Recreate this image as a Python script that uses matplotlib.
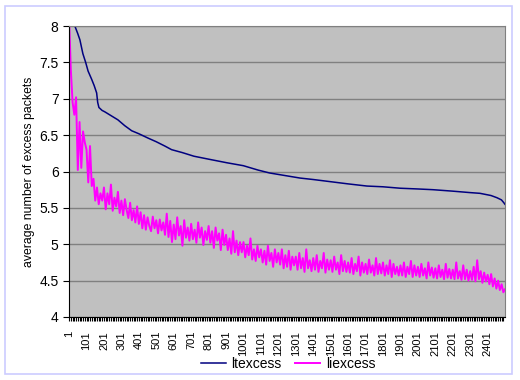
import numpy as np
import matplotlib.pyplot as plt
from matplotlib.patches import Rectangle

plt.rcParams['font.family'] = ['Liberation Sans', 'DejaVu Sans']

# ltexcess: smooth decreasing curve, (packet index, value)
lt_idx = [1, 10, 20, 34, 50, 63, 80, 96, 110, 130, 145, 159, 165, 172, 190,
          206, 240, 281, 320, 360, 400, 453, 500, 550, 589, 650, 717, 800,
          906, 1000, 1084, 1150, 1250, 1325, 1400, 1500, 1600, 1709, 1800,
          1900, 2000, 2087, 2200, 2300, 2357, 2420, 2454, 2480, 2494, 2500]
lt_val = [9.5, 8.6, 8.25, 8.0, 7.9, 7.81, 7.62, 7.5, 7.38, 7.27, 7.18, 7.08,
          6.95, 6.88, 6.84, 6.82, 6.77, 6.71, 6.63, 6.56, 6.52, 6.46, 6.41,
          6.35, 6.30, 6.26, 6.21, 6.17, 6.12, 6.08, 6.02, 5.98, 5.94, 5.91,
          5.89, 5.86, 5.83, 5.80, 5.79, 5.77, 5.76, 5.75, 5.73, 5.71, 5.70,
          5.67, 5.64, 5.61, 5.57, 5.55]

# liexcess: noisy series, one reading every 10 packets (1, 11, 21, ...)
li_val = [
    8.1, 7.4, 6.95, 6.78, 7.02, 6.02, 6.68, 6.05, 6.55, 6.4,
    6.3, 5.85, 6.35, 5.8, 5.9, 5.6, 5.78, 5.55, 5.7, 5.6,
    5.78, 5.48, 5.7, 5.55, 5.82, 5.46, 5.64, 5.52, 5.72, 5.43,
    5.6, 5.4, 5.62, 5.47, 5.36, 5.57, 5.33, 5.47, 5.3, 5.52,
    5.28, 5.44, 5.22, 5.4, 5.2, 5.37, 5.25, 5.18, 5.38, 5.22,
    5.33, 5.15, 5.34, 5.19, 5.3, 5.13, 5.42, 5.1, 5.32, 5.03,
    5.27, 5.07, 5.37, 5.12, 5.25, 4.98, 5.33, 5.09, 5.23, 5.05,
    5.28, 5.07, 5.2, 5.02, 5.3, 5.09, 5.23, 4.99, 5.18, 5.06,
    5.25, 5.02, 5.18, 4.95, 5.23, 5.05, 5.15, 4.92, 5.2, 4.99,
    5.13, 4.92, 5.08, 4.87, 5.18, 4.89, 5.05, 4.85, 5.03, 4.89,
    5.03, 4.82, 4.98, 4.85, 5.08, 4.79, 4.93, 4.77, 4.98, 4.82,
    4.93, 4.75, 4.91, 4.72, 4.98, 4.77, 4.88, 4.69, 4.93, 4.75,
    4.88, 4.72, 4.93, 4.67, 4.85, 4.69, 4.91, 4.65, 4.83, 4.71,
    4.83, 4.65, 4.88, 4.67, 4.81, 4.62, 4.93, 4.67, 4.78, 4.63,
    4.81, 4.65, 4.85, 4.62, 4.77, 4.67, 4.88, 4.61, 4.79, 4.65,
    4.78, 4.62, 4.83, 4.65, 4.75, 4.59, 4.85, 4.63, 4.77, 4.62,
    4.75, 4.61, 4.81, 4.59, 4.73, 4.63, 4.83, 4.57, 4.75, 4.61,
    4.73, 4.59, 4.79, 4.61, 4.71, 4.57, 4.81, 4.59, 4.73, 4.6,
    4.75, 4.57, 4.71, 4.59, 4.78, 4.55, 4.73, 4.59, 4.69, 4.57,
    4.71, 4.57, 4.75, 4.55, 4.69, 4.59, 4.77, 4.55, 4.71, 4.57,
    4.69, 4.55, 4.73, 4.57, 4.67, 4.53, 4.75, 4.57, 4.68, 4.54,
    4.67, 4.53, 4.71, 4.55, 4.65, 4.52, 4.73, 4.54, 4.66, 4.53,
    4.65, 4.52, 4.75, 4.53, 4.63, 4.51, 4.71, 4.52, 4.65, 4.5,
    4.63, 4.51, 4.69, 4.49, 4.78, 4.52, 4.63, 4.47, 4.61, 4.49,
    4.58, 4.45, 4.59, 4.42, 4.53, 4.39, 4.5, 4.37, 4.45, 4.34,
    4.38,
]
li_idx = list(range(1, 2492, 10)) + [2500]

xtick_labels = [str(i) for i in range(1, 2402, 100)]
n_points = 2500

fig = plt.figure(figsize=(5.2, 3.8), dpi=100)
fig.patches.append(Rectangle((5 / 520, 6 / 380), 507 / 520, 368 / 380,
                             transform=fig.transFigure, fill=False,
                             edgecolor='#ccccff', linewidth=1.2))

ax = fig.add_axes([69 / 520, 63 / 380, 436 / 520, 291 / 380])
ax.set_facecolor('#c0c0c0')

ax.plot(lt_idx, lt_val, color='#000080', lw=1.1, label='ltexcess')
ax.plot(li_idx, li_val, color='#ff00ff', lw=1.4, label='liexcess')

ax.set_ylim(4, 8)
ax.set_xlim(0.5, n_points + 0.5)
ax.set_yticks(np.arange(4, 8.01, 0.5))
ax.set_yticklabels(['4', '4.5', '5', '5.5', '6', '6.5', '7', '7.5', '8'])
ax.yaxis.grid(True, color='#808080', lw=1)
ax.set_axisbelow(True)

ax.set_xticks([int(s) for s in xtick_labels])
ax.set_xticklabels(xtick_labels, rotation=90, fontsize=8)
ax.set_xticks(range(1, n_points + 1, 10), minor=True)
ax.tick_params(axis='x', which='both', direction='out', length=3, width=0.8, pad=7)
ax.tick_params(axis='y', direction='out', length=4, labelsize=10)

for side in ('top', 'right'):
    ax.spines[side].set_color('#808080')
for side in ('left', 'bottom'):
    ax.spines[side].set_color('black')

ax.set_ylabel('average number of excess packets', fontsize=8.8, labelpad=3)

fig.legend(loc='center', bbox_to_anchor=(288 / 520, 1 - 364 / 380), ncol=2,
           frameon=False, fontsize=10, handlelength=1.8, columnspacing=1.0,
           handletextpad=0.4)

fig.savefig('out.png', dpi=100)
